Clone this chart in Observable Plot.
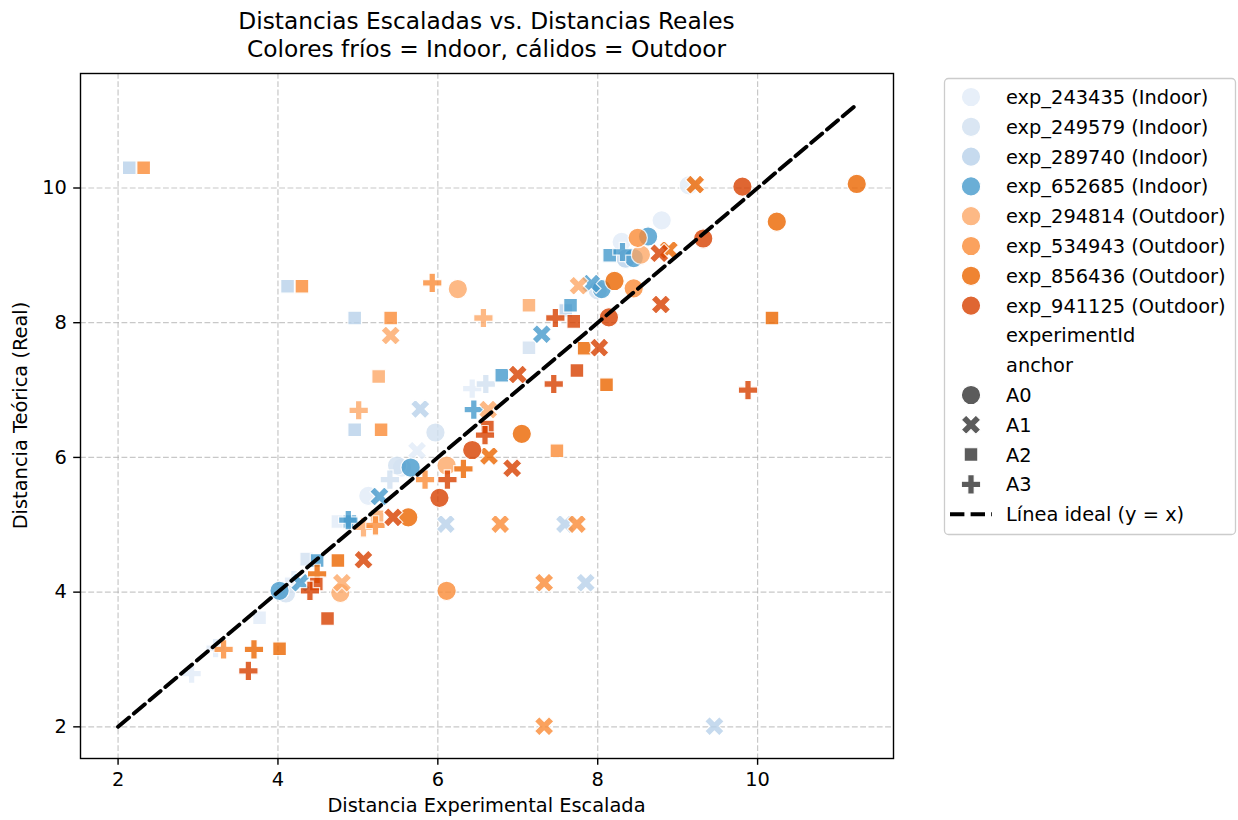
<!DOCTYPE html>
<html>
<head>
<meta charset="utf-8">
<script src="https://cdn.jsdelivr.net/npm/d3@7"></script>
<script src="https://cdn.jsdelivr.net/npm/@observablehq/plot@0.6"></script>
<style>
  html, body { margin: 0; padding: 0; background: white; }
  #chart { width: 1238px; height: 820px; }
</style>
</head>
<body>
<div id="chart"></div>
<script>
// ---------- data ----------
const experiments = ["exp_243435", "exp_249579", "exp_289740", "exp_652685",
                     "exp_294814", "exp_534943", "exp_856436", "exp_941125"];
const environments = ["Indoor", "Indoor", "Indoor", "Indoor",
                      "Outdoor", "Outdoor", "Outdoor", "Outdoor"];
const anchors = ["A0", "A1", "A2", "A3"];
const xTicks = [2, 4, 6, 8, 10];
const yTicks = [2, 4, 6, 8, 10];
const idealLine = [2.0, 11.24]; // y = x from min to max value

// [experimental scaled distance, real distance, anchor]
const exp_243435 = [
  [9.14, 10.04, "A0"], [8.80, 9.52, "A0"], [8.30, 9.20, "A0"], [5.55, 5.85, "A0"], [5.13, 5.43, "A0"],
  [5.74, 6.10, "A1"],
  [3.77, 3.62, "A2"], [4.75, 5.05, "A2"],
  [6.43, 7.02, "A3"], [4.20, 4.18, "A3"], [3.22, 3.17, "A3"], [2.92, 2.79, "A3"]
];
const exp_249579 = [
  [5.97, 6.37, "A0"], [5.49, 5.88, "A0"], [8.00, 8.48, "A0"], [4.10, 3.98, "A0"],
  [7.14, 7.63, "A2"], [4.36, 4.49, "A2"],
  [6.60, 7.09, "A3"], [5.40, 5.67, "A3"]
];
const exp_289740 = [
  [8.35, 8.95, "A0"],
  [5.78, 6.72, "A1"], [6.10, 5.01, "A1"], [7.59, 5.01, "A1"], [7.85, 4.14, "A1"], [9.46, 2.01, "A1"],
  [2.14, 10.30, "A2"], [4.12, 8.54, "A2"], [4.96, 8.07, "A2"], [4.96, 6.41, "A2"], [7.60, 8.18, "A2"]
];
const exp_652685 = [
  [8.63, 9.28, "A0"], [8.45, 8.96, "A0"], [8.05, 8.50, "A0"], [5.66, 5.85, "A0"], [4.02, 4.02, "A0"],
  [7.92, 8.58, "A1"], [7.30, 7.83, "A1"], [5.27, 5.42, "A1"], [4.28, 4.14, "A1"],
  [8.15, 9.00, "A2"], [7.66, 8.26, "A2"], [6.80, 7.22, "A2"], [4.90, 5.05, "A2"], [4.49, 4.47, "A2"],
  [8.31, 9.05, "A3"], [6.45, 6.71, "A3"], [4.88, 5.07, "A3"]
];
const exp_294814 = [
  [6.25, 8.50, "A0"], [8.54, 9.01, "A0"], [6.11, 5.88, "A0"], [4.78, 3.99, "A0"],
  [5.41, 7.81, "A1"], [6.63, 6.71, "A1"], [7.76, 8.55, "A1"], [4.80, 4.14, "A1"],
  [7.14, 8.26, "A2"], [5.26, 7.20, "A2"], [5.24, 5.12, "A2"],
  [6.57, 8.07, "A3"], [5.01, 6.70, "A3"], [5.07, 4.96, "A3"]
];
const exp_534943 = [
  [8.50, 9.26, "A0"], [8.45, 8.51, "A0"], [6.11, 4.02, "A0"],
  [6.78, 5.01, "A1"], [7.74, 5.01, "A1"], [7.33, 4.14, "A1"], [7.33, 2.01, "A1"],
  [2.32, 10.30, "A2"], [4.30, 8.54, "A2"], [5.41, 8.07, "A2"], [5.29, 6.41, "A2"], [7.49, 6.10, "A2"],
  [5.93, 8.59, "A3"], [5.84, 5.67, "A3"], [5.22, 4.99, "A3"], [3.32, 3.15, "A3"]
];
const exp_856436 = [
  [11.24, 10.06, "A0"], [10.24, 9.50, "A0"], [8.21, 8.62, "A0"], [7.05, 6.35, "A0"], [5.63, 5.11, "A0"],
  [9.22, 10.05, "A1"], [8.89, 9.08, "A1"], [6.64, 6.02, "A1"],
  [10.18, 8.07, "A2"], [7.83, 7.62, "A2"], [8.11, 7.08, "A2"], [4.75, 4.47, "A2"], [4.02, 3.16, "A2"],
  [6.32, 5.83, "A3"], [4.49, 4.27, "A3"], [3.70, 3.15, "A3"]
];
const exp_941125 = [
  [9.81, 10.02, "A0"], [9.32, 9.25, "A0"], [8.14, 8.08, "A0"], [6.43, 6.11, "A0"], [6.02, 5.40, "A0"],
  [8.77, 9.03, "A1"], [8.79, 8.27, "A1"], [8.02, 7.63, "A1"], [7.00, 7.23, "A1"], [6.93, 5.84, "A1"],
  [5.44, 5.11, "A1"], [5.07, 4.48, "A1"],
  [7.70, 8.02, "A2"], [7.74, 7.29, "A2"], [6.62, 6.45, "A2"], [4.48, 4.12, "A2"], [4.62, 3.61, "A2"],
  [9.88, 7.00, "A3"], [7.47, 8.07, "A3"], [7.45, 7.09, "A3"], [6.59, 6.33, "A3"], [6.12, 5.67, "A3"],
  [4.40, 4.02, "A3"], [3.63, 2.83, "A3"]
];

// ---------- styles ----------
const palette = ["#e2ecf8", "#d1e1f1", "#b8d2eb", "#469acc",
                 "#fda867", "#fb8c37", "#ec6600", "#d84000"];
const FONT = "'DejaVu Sans', sans-serif";

// seaborn-like filled markers
function rad(size) { return Math.sqrt(size / Math.PI); }
const symCircle = { draw(ctx, size) { const r = rad(size); ctx.moveTo(r, 0); ctx.arc(0, 0, r, 0, 2 * Math.PI); ctx.closePath(); } };
const symSquare = { draw(ctx, size) { const h = rad(size) * 0.7071; ctx.rect(-h, -h, 2 * h, 2 * h); } };
const symX = { draw(ctx, size) {
  const k = rad(size) / 2;
  const p = [[-1,-2],[0,-1],[1,-2],[2,-1],[1,0],[2,1],[1,2],[0,1],[-1,2],[-2,1],[-1,0],[-2,-1]];
  p.forEach(([a, b], i) => i ? ctx.lineTo(a * k, b * k) : ctx.moveTo(a * k, b * k));
  ctx.closePath();
} };
const symPlus = { draw(ctx, size) {
  const k = rad(size) / 3;
  const p = [[-1,-3],[-1,-1],[-3,-1],[-3,1],[-1,1],[-1,3],[1,3],[1,1],[3,1],[3,-1],[1,-1],[1,-3]];
  p.forEach(([a, b], i) => i ? ctx.lineTo(a * k, b * k) : ctx.moveTo(a * k, b * k));
  ctx.closePath();
} };
const symbolsForAnchors = [symCircle, symX, symSquare, symPlus];

const seriesByExp = [exp_243435, exp_249579, exp_289740, exp_652685,
                     exp_294814, exp_534943, exp_856436, exp_941125];
const rows = [];
seriesByExp.forEach((arr, i) => arr.forEach(([x, y, a]) => rows.push({ exp: experiments[i], x, y, anchor: a })));
const lineRows = idealLine.map(v => ({ x: v, y: v }));

const R = 9.7;
const fmt = d3.format("d");
const svg = Plot.plot({
  width: 1238, height: 820,
  marginLeft: 80, marginRight: 345, marginTop: 73, marginBottom: 62,
  style: { fontFamily: FONT, fontSize: "19.4px", color: "black", background: "white" },
  x: { domain: [1.53, 11.70] },
  y: { domain: [1.53, 11.70] },
  color: { domain: experiments, range: palette },
  symbol: { domain: anchors, range: symbolsForAnchors },
  marks: [
    Plot.gridX(xTicks, { stroke: "#b0b0b0", strokeOpacity: 0.7, strokeWidth: 1.2, strokeDasharray: "5.8,2.5" }),
    Plot.gridY(yTicks, { stroke: "#b0b0b0", strokeOpacity: 0.7, strokeWidth: 1.2, strokeDasharray: "5.8,2.5" }),
    Plot.dot(rows, { x: "x", y: "y", fill: "exp", symbol: "anchor", r: R, stroke: "white", strokeWidth: 1.2, opacity: 0.8 }),
    Plot.line(lineRows, { x: "x", y: "y", stroke: "black", strokeWidth: 3.9, strokeDasharray: "14.4,6.2" }),
    Plot.frame({ stroke: "black", strokeWidth: 1.4 }),
    Plot.axisX(xTicks, { tickSize: 6.8, tickPadding: 6.8, fontSize: 19.4, label: null, strokeWidth: 1.4, tickFormat: fmt }),
    Plot.axisY(yTicks, { tickSize: 6.8, tickPadding: 6.8, fontSize: 19.4, label: null, strokeWidth: 1.4, tickFormat: fmt })
  ]
});
document.getElementById("chart").appendChild(svg);

// ---------- titles & axis labels ----------
const s = d3.select(svg);
const txt = (x, y, t, size, anchor = "middle", rot = 0) => {
  const el = s.append("text").attr("x", x).attr("y", y).attr("text-anchor", anchor)
    .attr("font-family", FONT).attr("font-size", size).attr("fill", "black").text(t);
  if (rot) el.attr("transform", `rotate(${rot},${x},${y})`);
  return el;
};
txt(486.5, 28.5, "Distancias Escaladas vs. Distancias Reales", 23.3);
txt(486.5, 56.5, "Colores fríos = Indoor, cálidos = Outdoor", 23.3);
txt(486.5, 812, "Distancia Experimental Escalada", 19.4);
txt(27, 415.5, "Distancia Teórica (Real)", 19.4, "middle", -90);

// ---------- legend ----------
const lg = s.append("g").attr("text-anchor", "start");
lg.append("rect").attr("x", 944.5).attr("y", 78.5).attr("width", 291).attr("height", 456)
  .attr("rx", 4).attr("fill", "white").attr("fill-opacity", 0.8).attr("stroke", "#cccccc").attr("stroke-width", 1.3);
const rowY = i => 97 + i * 29.8;
const mx = 971, tx = 1006;
const symSize = Math.PI * R * R;
const ltxt = (i, t) => lg.append("text").attr("x", tx).attr("y", rowY(i) + 7).attr("text-anchor", "start")
  .attr("font-family", FONT).attr("font-size", 19.4).attr("fill", "black").text(t);
experiments.forEach((e, i) => {
  lg.append("path").attr("d", d3.symbol(symCircle, symSize)()).attr("transform", `translate(${mx},${rowY(i)})`)
    .attr("fill", palette[i]).attr("stroke", "white").attr("stroke-width", 1.2).attr("opacity", 0.8);
  ltxt(i, `${e} (${environments[i]})`);
});
["experimentId", "anchor"].forEach((t, j) => ltxt(8 + j, t));
anchors.forEach((a, j) => {
  const i = 10 + j;
  lg.append("path").attr("d", d3.symbol(symbolsForAnchors[j], symSize)()).attr("transform", `translate(${mx},${rowY(i)})`)
    .attr("fill", "#333333").attr("stroke", "white").attr("stroke-width", 1.2).attr("opacity", 0.8);
  ltxt(i, a);
});
lg.append("line").attr("x1", 950).attr("x2", 992).attr("y1", rowY(14)).attr("y2", rowY(14))
  .attr("stroke", "black").attr("stroke-width", 3.9).attr("stroke-dasharray", "14.4,6.2");
ltxt(14, "Línea ideal (y = x)");
</script>
</body>
</html>
